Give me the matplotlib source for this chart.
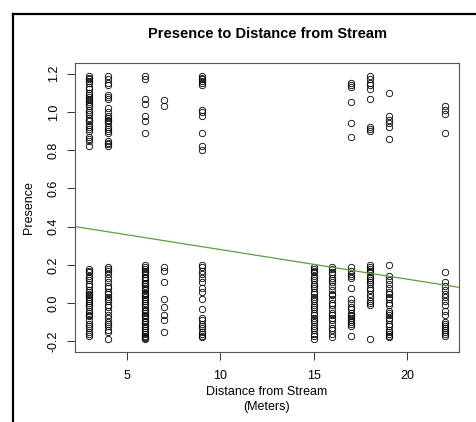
import numpy as np
import matplotlib.pyplot as plt
from matplotlib.lines import Line2D

###############################################################################
# Data: jittered presence (1) / absence (0) at each distance from stream

pres_3 = [1.19, 1.18, 1.17, 1.16, 1.15, 1.13, 1.12, 1.10, 1.09, 1.08, 1.07, 1.06,
          1.05, 1.04, 1.03, 1.01, 1.00, 0.99, 0.97, 0.96, 0.95, 0.93, 0.92, 0.91,
          0.90, 0.87, 0.86, 0.85, 0.82]
pres_4 = [1.19, 1.17, 1.15, 1.14, 1.09, 1.08, 1.07, 1.02, 1.00, 0.98, 0.97, 0.96,
          0.95, 0.94, 0.92, 0.91, 0.90, 0.89, 0.85, 0.84, 0.83, 0.82]
pres_6 = [1.19, 1.17, 1.07, 1.04, 0.98, 0.95, 0.89]
pres_7 = [1.06, 1.03]
pres_9 = [1.19, 1.18, 1.17, 1.16, 1.15, 1.14, 1.01, 1.00, 0.98, 0.89, 0.82, 0.80]
pres_17 = [1.15, 1.14, 1.13, 1.05, 0.94, 0.87]
pres_18 = [1.19, 1.17, 1.15, 1.14, 1.12, 1.07, 0.92, 0.91, 0.90]
pres_19 = [1.10, 0.98, 0.96, 0.94, 0.92, 0.86]
pres_22 = [1.03, 1.01, 0.99, 0.89]

abs_3 = [0.18, 0.17, 0.16, 0.14, 0.13, 0.12, 0.10, 0.09, 0.07, 0.06, 0.05, 0.04,
         0.03, 0.02, 0.01, 0.00, -0.01, -0.02, -0.04, -0.05, -0.06, -0.07, -0.09,
         -0.11, -0.12, -0.13, -0.15, -0.16, -0.17]
abs_4 = [0.19, 0.18, 0.17, 0.15, 0.13, 0.11, 0.09, 0.08, 0.06, 0.05, 0.03, 0.02,
         0.01, -0.01, -0.02, -0.04, -0.06, -0.08, -0.10, -0.11, -0.12, -0.14,
         -0.15, -0.19]
abs_6 = [0.20, 0.19, 0.18, 0.17, 0.16, 0.15, 0.135, 0.13, 0.12, 0.105, 0.10, 0.09,
         0.08, 0.07, 0.055, 0.05, 0.04, 0.03, 0.02, 0.01, 0.00, -0.01, -0.02,
         -0.035, -0.04, -0.05, -0.06, -0.07, -0.08, -0.095, -0.10, -0.11, -0.12,
         -0.13, -0.14, -0.15, -0.16, -0.17, -0.18, -0.185, -0.19]
abs_7 = [0.19, 0.17, 0.11, 0.02, -0.02, -0.06, -0.09, -0.15]
abs_9 = [0.20, 0.19, 0.17, 0.15, 0.13, 0.11, 0.08, 0.06, 0.02, -0.03, -0.08,
         -0.09, -0.11, -0.12, -0.13, -0.15, -0.16, -0.17, -0.18]
abs_15 = [0.19, 0.18, 0.17, 0.16, 0.14, 0.13, 0.12, 0.10, 0.09, 0.08, 0.06, 0.05,
          0.03, 0.02, 0.01, -0.01, -0.02, -0.03, -0.05, -0.06, -0.08, -0.09,
          -0.10, -0.12, -0.13, -0.14, -0.16, -0.17, -0.19]
abs_16 = [0.19, 0.18, 0.16, 0.15, 0.13, 0.12, 0.11, 0.09, 0.07, 0.05, 0.04, 0.02,
          0.00, -0.01, -0.03, -0.05, -0.06, -0.08, -0.09, -0.11, -0.13, -0.14,
          -0.16, -0.18]
abs_17 = [0.19, 0.17, 0.15, 0.14, 0.13, 0.08, 0.02, 0.00, -0.02, -0.03, -0.05,
          -0.06, -0.07, -0.08, -0.09, -0.10, -0.11, -0.12, -0.17]
abs_18 = [0.20, 0.19, 0.18, 0.17, 0.16, 0.14, 0.13, 0.12, 0.11, 0.10, 0.08, 0.07,
          0.05, 0.03, 0.01, 0.00, -0.01, -0.19]
abs_19 = [0.20, 0.14, 0.12, 0.10, 0.08, 0.06, 0.05, 0.03, 0.02, 0.00, -0.01,
          -0.04, -0.05, -0.06, -0.08, -0.09, -0.11, -0.12, -0.14, -0.15, -0.16,
          -0.17, -0.18]
abs_22 = [0.16, 0.11, 0.09, 0.07, 0.05, 0.03, 0.01, -0.01, -0.04, -0.06, -0.10,
          -0.11, -0.12, -0.13, -0.14, -0.15, -0.16, -0.17]

# Fitted regression line (presence ~ distance)
fit_intercept = 0.435
fit_slope = -0.0155

columns = {3: pres_3 + abs_3, 4: pres_4 + abs_4, 6: pres_6 + abs_6,
           7: pres_7 + abs_7, 9: pres_9 + abs_9, 15: abs_15, 16: abs_16,
           17: pres_17 + abs_17, 18: pres_18 + abs_18, 19: pres_19 + abs_19,
           22: pres_22 + abs_22}

x = np.concatenate([[d] * len(v) for d, v in columns.items()])
y = np.concatenate([v for v in columns.values()])

###############################################################################
# Plot

plt.rcParams['font.family'] = ['Liberation Sans', 'DejaVu Sans']

fig = plt.figure(figsize=(4.76, 4.22), dpi=100)
ax = fig.add_axes([75 / 476, 1 - 352 / 422, 384 / 476, 289 / 422])

ax.plot(x, y, linestyle='none', marker='o', markersize=4.6,
        markerfacecolor='none', markeredgecolor='black', markeredgewidth=0.6)
ax.axline((0, fit_intercept), slope=fit_slope, color='#5e9e3c', linewidth=0.9)

# R style: 4% padding around data range
ax.set_xlim(2.24, 22.76)
ax.set_ylim(-0.256, 1.256)
ax.set_xticks([5, 10, 15, 20])
ax.set_yticks([-0.2, 0.0, 0.2, 0.4, 0.6, 0.8, 1.0, 1.2])
ax.set_yticklabels(['-0.2', '0.0', '0.2', '0.4', '0.6', '0.8', '1.0', '1.2'],
                   rotation=90, va='center')
ax.tick_params(length=6, width=0.7, color='#333333', labelsize=9, pad=5)
ax.tick_params(axis='x', pad=7)
for sp in ax.spines.values():
    sp.set_color('#555555')
    sp.set_linewidth(0.8)

ax.set_title('Presence to Distance from Stream', fontsize=10.5,
             fontweight='bold', pad=18)
ax.set_xlabel('Distance from Stream\n(Meters)', fontsize=9, labelpad=3,
              linespacing=1.35)
ax.set_ylabel('Presence', fontsize=9, labelpad=9)

# outer frame lines of the screenshot
fig.add_artist(Line2D([13 / 476, 13 / 476], [0, 1 - 14 / 422],
                      transform=fig.transFigure, color='black', linewidth=1.6))
fig.add_artist(Line2D([13 / 476, 1], [1 - 14 / 422, 1 - 14 / 422],
                      transform=fig.transFigure, color='black', linewidth=1.6))

fig.savefig('out.png', dpi=100)
